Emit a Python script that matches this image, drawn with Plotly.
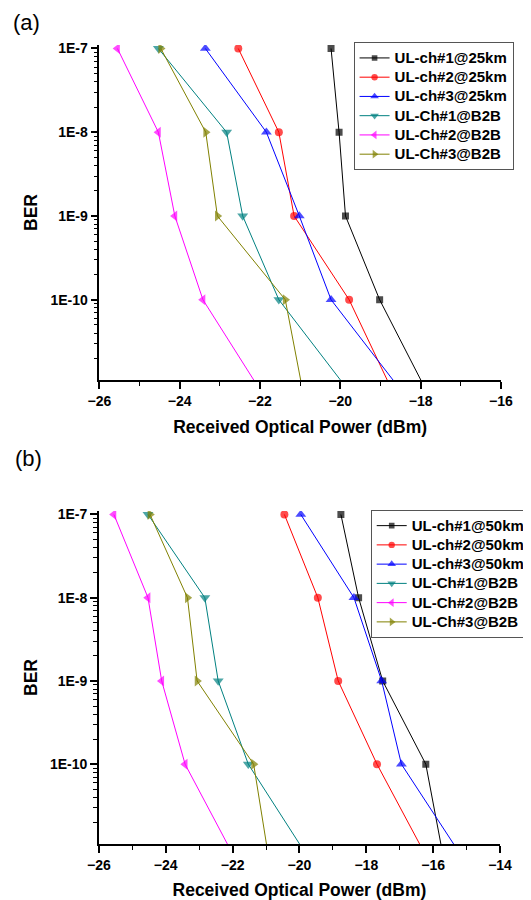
import math
import plotly.graph_objects as go

# ---------------- data ----------------
BER = [1e-7, 1e-8, 1e-9, 1e-10, 1e-11]

# panel (a) 25 km
a_ch1_25km = [-20.23, -20.03, -19.87, -19.02, -17.95]
a_ch2_25km = [-22.54, -21.53, -21.15, -19.78, -18.79]
a_ch3_25km = [-23.36, -21.84, -21.02, -20.23, -18.62]
# back-to-back (same in both panels)
b2b_ch1 = [-24.53, -22.83, -22.43, -21.53, -19.93]
b2b_ch2 = [-25.55, -24.53, -24.12, -23.42, -22.10]
b2b_ch3 = [-24.47, -23.35, -23.06, -21.37, -20.97]
# panel (b) 50 km
b_ch1_50km = [-18.76, -18.23, -17.51, -16.22, -15.75]
b_ch2_50km = [-20.45, -19.45, -18.84, -17.68, -16.35]
b_ch3_50km = [-19.96, -18.37, -17.54, -16.95, -15.32]

names_a = ["UL-ch#1@25km", "UL-ch#2@25km", "UL-ch#3@25km",
           "UL-Ch#1@B2B", "UL-Ch#2@B2B", "UL-Ch#3@B2B"]
names_b = ["UL-ch#1@50km", "UL-ch#2@50km", "UL-ch#3@50km",
           "UL-Ch#1@B2B", "UL-Ch#2@B2B", "UL-Ch#3@B2B"]

y_ticks = [1e-7, 1e-8, 1e-9, 1e-10]
y_ticktext = ["1E-7", "1E-8", "1E-9", "1E-10"]

# ---------------- style ----------------
FONT = "Liberation Sans, Arial, sans-serif"
colors = ["#000000", "#FF0000", "#0000FF", "#008080", "#FF00FF", "#808000"]
symbols = ["square", "circle", "triangle-up", "triangle-down",
           "triangle-left", "triangle-right"]
msizes = [7, 8, 9.5, 9.5, 9.5, 9.5]

series_a = [a_ch1_25km, a_ch2_25km, a_ch3_25km, b2b_ch1, b2b_ch2, b2b_ch3]
series_b = [b_ch1_50km, b_ch2_50km, b_ch3_50km, b2b_ch1, b2b_ch2, b2b_ch3]

fig = go.Figure()

def add_panel(series, names, xa, ya, leg):
    for s, n, c, sym, ms in zip(series, names, colors, symbols, msizes):
        fig.add_trace(go.Scatter(
            x=s, y=BER, name='<span style="font-size:15px">%s</span>' % n,
            mode="lines+markers",
            xaxis=xa, yaxis=ya, legend=leg,
            line=dict(color=c, width=1),
            marker=dict(color=c, symbol=sym,
                        size=[ms] * (len(s) - 1) + [0],
                        line=dict(width=0)),
        ))

add_panel(series_a, names_a, "x", "y", "legend")
add_panel(series_b, names_b, "x2", "y2", "legend2")

# page has an 8px body margin; figure is sized to fill the rest of the window
OFF = 8
W, H = 531 - OFF, 900 - OFF

def px(xp):
    return (xp - OFF) / W

def py(yp):
    return 1 - (yp - OFF) / H

ylog_range = [math.log10(1.1e-11), math.log10(1.1e-7)]
minor_vals = [k * 10.0 ** e for e in range(-11, -7) for k in range(2, 10)]

tickfont = dict(family=FONT, size=14, color="black", weight="bold")
titlefont = dict(family=FONT, size=17.5, color="black", weight="bold")

def yaxis_cfg(dom):
    return dict(
        type="log", range=ylog_range, domain=dom,
        tickmode="array", tickvals=y_ticks, ticktext=y_ticktext,
        ticks="outside", ticklen=7, tickwidth=1.5, tickcolor="black",
        minor=dict(tickmode="array", tickvals=minor_vals, ticks="outside",
                   ticklen=4, tickwidth=1, tickcolor="black", showgrid=False),
        showline=True, linecolor="black", linewidth=1.5,
        showgrid=False, zeroline=False, tickfont=tickfont,
        title=dict(text="BER", font=titlefont, standoff=8),
        automargin=False,
    )

def xaxis_cfg(dom, rng, anchor):
    return dict(
        range=rng, domain=dom, anchor=anchor,
        tickmode="linear", tick0=-26, dtick=2,
        ticks="outside", ticklen=7, tickwidth=1.5, tickcolor="black",
        minor=dict(dtick=1, ticks="outside", ticklen=4, tickwidth=1,
                   tickcolor="black", showgrid=False),
        showline=True, linecolor="black", linewidth=1.5,
        showgrid=False, zeroline=False, tickfont=tickfont,
        title=dict(text="Received Optical Power (dBm)", font=titlefont,
                   standoff=13),
        automargin=False,
    )

legfont = dict(family=FONT, size=12.5, color="black", weight="bold")

fig.update_layout(
    width=W, height=H,
    margin=dict(l=0, r=0, t=0, b=0),
    paper_bgcolor="white", plot_bgcolor="white",
    xaxis=xaxis_cfg([px(101.3), px(511.5)], [-26, -16], "y"),
    yaxis=yaxis_cfg([py(380), py(45)]),
    xaxis2=xaxis_cfg([px(100.8), px(510.6)], [-26, -14], "y2"),
    yaxis2=dict(yaxis_cfg([py(844), py(511)]), anchor="x2"),
    legend=dict(x=px(361), y=py(42.3), xanchor="left", yanchor="top",
                bordercolor="#555555", borderwidth=1, bgcolor="white",
                font=legfont, itemwidth=30, tracegroupgap=0),
    legend2=dict(x=px(378.5), y=py(510), xanchor="left", yanchor="top",
                 bordercolor="#555555", borderwidth=1, bgcolor="white",
                 font=legfont, itemwidth=30, tracegroupgap=0),
    annotations=[
        dict(text="(a)", x=px(27), y=py(22.5), xref="paper", yref="paper",
             xanchor="center", yanchor="middle", showarrow=False,
             font=dict(family=FONT, size=22, color="black")),
        dict(text="(b)", x=px(29), y=py(459), xref="paper", yref="paper",
             xanchor="center", yanchor="middle", showarrow=False,
             font=dict(family=FONT, size=22, color="black")),
    ],
)

fig.write_html("out.html")
